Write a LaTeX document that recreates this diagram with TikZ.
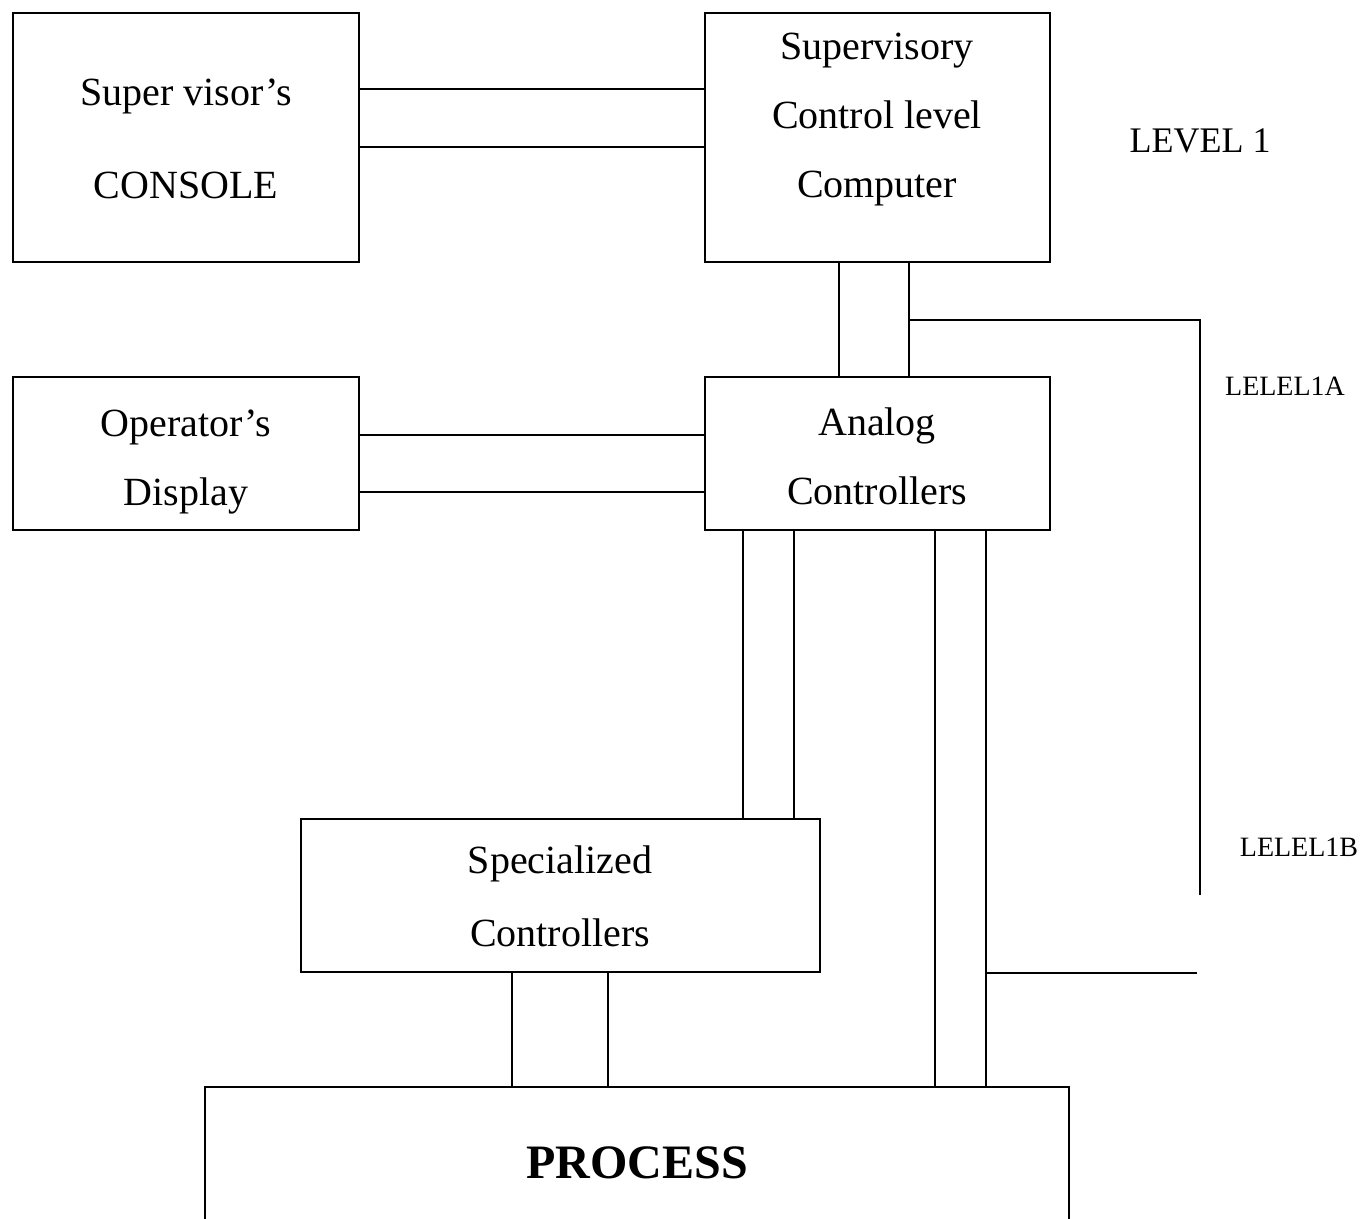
\documentclass[tikz,border=0pt]{standalone}
\usepackage{fontspec}
\setmainfont{Liberation Serif}
\begin{document}
\begin{tikzpicture}[x=1pt,y=-1pt, line width=1.6pt,
  box/.style={draw, rectangle, inner sep=0pt},
  txt/.style={inner sep=0pt, align=center},
  lbl/.style={inner sep=0pt}]
\useasboundingbox[fill=white] (0,0) rectangle (1364,1218);
% boxes
\node[box, minimum width=346pt, minimum height=249pt] (console) at (186,137.5) {};
\node[box, minimum width=345pt, minimum height=249pt] (sup) at (877.5,137.5) {};
\node[box, minimum width=346pt, minimum height=153pt] (oper) at (186,453.5) {};
\node[box, minimum width=345pt, minimum height=153pt] (analog) at (877.5,453.5) {};
\node[box, minimum width=519pt, minimum height=153pt] (spec) at (560.5,895.5) {};
\node[box, minimum width=864pt, minimum height=213pt] (proc) at (637,1193.5) {};
% texts
\node[txt, font=\fontsize{40}{93}\selectfont] (consoletxt) at (186,139) {Super visor’s\\CONSOLE};
\node[txt, font=\fontsize{40}{69}\selectfont] (suptxt) at (877,120) {Supervisory\\Control level\\Computer};
\node[txt, font=\fontsize{40}{69}\selectfont] (opertxt) at (186,462) {Operator’s\\Display};
\node[txt, font=\fontsize{40}{69}\selectfont] (analogtxt) at (877,456) {Analog\\Controllers};
\node[txt, font=\fontsize{40}{73}\selectfont] (spectxt) at (560,896) {Specialized\\Controllers};
\node[txt, font=\bfseries\fontsize{48}{56}\selectfont] (proctxt) at (637,1163) {PROCESS};
\node[lbl, font=\fontsize{36}{42}\selectfont] (lev1) at (1200,141) {LEVEL 1};
\node[lbl, font=\fontsize{28}{34}\selectfont] (lev1a) at (1285,386) {LELEL1A};
\node[lbl, font=\fontsize{28}{34}\selectfont] (lev1b) at (1299,847) {LELEL1B};
% console <-> supervisory
\draw (console.east |- 0,89) -- (sup.west |- 0,89);
\draw (console.east |- 0,147) -- (sup.west |- 0,147);
% operator <-> analog
\draw (oper.east |- 0,435) -- (analog.west |- 0,435);
\draw (oper.east |- 0,492) -- (analog.west |- 0,492);
% supervisory <-> analog
\draw (sup.south -| 839,0) -- (analog.north -| 839,0);
\draw (sup.south -| 909,0) -- (analog.north -| 909,0);
% level 1A bus
\coordinate (tapA) at (909,320);
\coordinate (cornerA) at (1200,320);
\coordinate (endA) at (1200,895);
\draw (tapA) -- (cornerA) -- (endA);
% analog <-> specialized
\draw (analog.south -| 743,0) -- (spec.north -| 743,0);
\draw (analog.south -| 794,0) -- (spec.north -| 794,0);
% analog <-> process
\draw (analog.south -| 935,0) -- (proc.north -| 935,0);
\draw (analog.south -| 986,0) -- (proc.north -| 986,0);
% level 1B branch
\coordinate (tapB) at (986,973);
\coordinate (endB) at (1197,973);
\draw (tapB) -- (endB);
% specialized <-> process
\draw (spec.south -| 512,0) -- (proc.north -| 512,0);
\draw (spec.south -| 608,0) -- (proc.north -| 608,0);
\end{tikzpicture}
\end{document}
